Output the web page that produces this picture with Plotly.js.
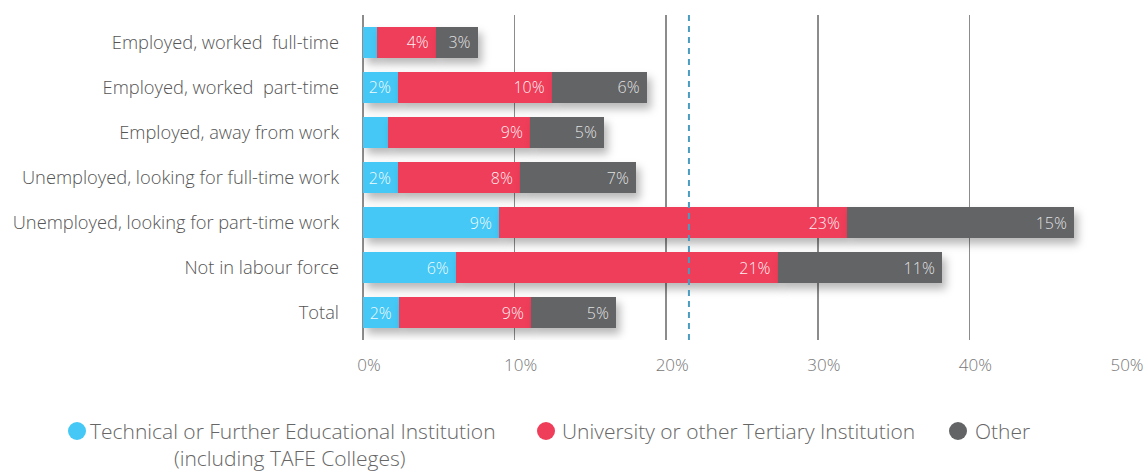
<!DOCTYPE html>
<html>
<head>
<meta charset="utf-8">
<script src="https://cdn.plot.ly/plotly-3.0.1.min.js"></script>
<style>
  html, body { margin: 0; padding: 0; background: #fff; }
  #chart { width: 1144px; height: 473px; }
  .barlayer .point path { filter: drop-shadow(4px 6px 4px rgba(0,0,0,0.28)); }
</style>
</head>
<body>
<div id="chart"></div>
<script>
// ---- Data ----
const categories = [
  "Employed, worked\u00a0 full-time",
  "Employed, worked\u00a0 part-time",
  "Employed, away from work",
  "Unemployed, looking for full-time work",
  "Unemployed, looking for part-time work",
  "Not in labour force",
  "Total"
];
const seriesNames = [
  "Technical or Further Educational Institution",
  "University or other Tertiary Institution",
  "Other"
];
const seriesSubtitle = "(including TAFE Colleges)";
const technical  = [0.90, 2.31, 1.65, 2.31, 8.97, 6.13, 2.37];
const university = [3.91, 10.14, 9.37, 8.05, 22.96, 21.22, 8.71];
const other      = [2.75, 6.27, 4.88, 7.65, 14.97, 10.84, 5.61];
const technicalLabels  = ["", "2%", "", "2%", "9%", "6%", "2%"];
const universityLabels = ["4%", "10%", "9%", "8%", "23%", "21%", "9%"];
const otherLabels      = ["3%", "6%", "5%", "7%", "15%", "11%", "5%"];
const xTickValues = [0, 10, 20, 30, 40, 50];
const xTickLabels = ["0%", "10%", "20%", "30%", "40%", "50%"];
const referenceLine = 21.5;

// ---- Style ----
const colors = ["#45c8f5", "#ef3e5a", "#636466"];
const FONT = "'Open Sans', 'Helvetica Neue', Arial, sans-serif";
const W = 1144, H = 473;
const M = { l: 363, r: 23, t: 15, b: 133 };
const plotW = W - M.l - M.r, plotH = H - M.t - M.b;
const px2x = p => (p - M.l) / plotW;
const py2y = p => (H - M.b - p) / plotH;

const values = [technical, university, other];
const labels = [technicalLabels, universityLabels, otherLabels];

const traces = values.map((v, i) => ({
  type: "bar",
  orientation: "h",
  name: seriesNames[i],
  y: categories,
  x: v,
  text: labels[i],
  texttemplate: "%{text}\u00a0",
  textposition: "inside",
  insidetextanchor: "end",
  textangle: 0,
  constraintext: "none",
  insidetextfont: { family: FONT, size: 16, weight: 300, color: i === 2 ? "rgba(235,235,235,0.95)" : "rgba(255,255,255,0.95)" },
  marker: { color: colors[i], line: { width: 0 } },
  hoverinfo: "x+y+name",
  showlegend: false,
  cliponaxis: false
}));

// Legend built as shapes + annotations
const legendItems = [
  { cx: 77, tx: 88 },
  { cx: 546, tx: 560 },
  { cx: 958, tx: 973 }
];
const legendY = 431;
const shapes = [{
  type: "line", xref: "x", yref: "paper",
  x0: referenceLine, x1: referenceLine, y0: 0, y1: 1,
  line: { color: "#4a9cc0", width: 2, dash: "6px,5px" }
}];
const annotations = [];
legendItems.forEach((it, i) => {
  shapes.push({
    type: "circle", xref: "paper", yref: "paper",
    xsizemode: "pixel", ysizemode: "pixel",
    xanchor: px2x(it.cx), yanchor: py2y(legendY),
    x0: -9, x1: 9, y0: -9, y1: 9,
    fillcolor: colors[i], line: { width: 0 }
  });
  annotations.push({
    xref: "paper", yref: "paper",
    x: px2x(it.tx), y: py2y(legendY),
    xanchor: "left", yanchor: "middle",
    text: seriesNames[i], showarrow: false,
    font: { family: FONT, size: 21, weight: 300, color: "#666" }
  });
});
annotations.push({
  xref: "paper", yref: "paper",
  x: px2x(290), y: py2y(458),
  xanchor: "center", yanchor: "middle",
  text: seriesSubtitle, showarrow: false, borderpad: 0,
  font: { family: FONT, size: 21, weight: 300, color: "#666" }
});

const layout = {
  width: W, height: H,
  margin: M,
  barmode: "stack",
  bargap: 0.31,
  paper_bgcolor: "#fff",
  plot_bgcolor: "#fff",
  font: { family: FONT, color: "#555" },
  xaxis: {
    range: [0, 50],
    tickvals: xTickValues,
    ticktext: xTickLabels,
    showgrid: true,
    gridcolor: "#8c8c8c",
    gridwidth: 1.5,
    zeroline: true,
    zerolinecolor: "#8c8c8c",
    zerolinewidth: 1.5,
    showline: false,
    ticks: "",
    ticklabelshift: 6,
    ticklabelstandoff: 13,
    tickfont: { family: FONT, size: 17, weight: 300, color: "#777" },
    fixedrange: true
  },
  yaxis: {
    type: "category",
    categoryorder: "array",
    categoryarray: categories,
    range: [6.61, -0.61],
    showgrid: false,
    zeroline: false,
    showline: false,
    ticks: "",
    ticklabelstandoff: 23,
    tickfont: { family: FONT, size: 18.3, weight: 300, color: "#555" },
    fixedrange: true
  },
  shapes: shapes,
  annotations: annotations,
  showlegend: false
};

Plotly.newPlot("chart", traces, layout, { displayModeBar: false, staticPlot: true });
</script>
</body>
</html>
